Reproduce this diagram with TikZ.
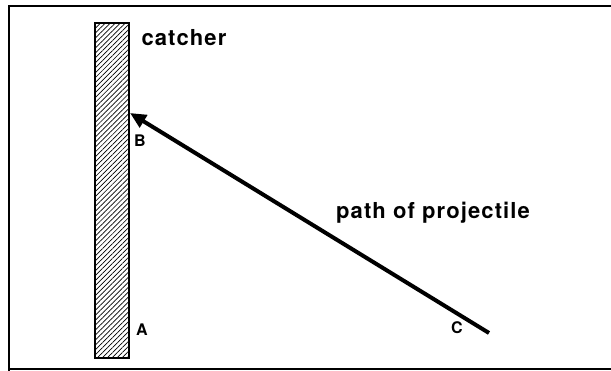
\documentclass[tikz,border=0pt]{standalone}
\usepackage{fontspec}
\setmainfont{TeX Gyre Heros}
\newfontfamily\labelfont[LetterSpace=5]{TeX Gyre Heros}
\usetikzlibrary{positioning,arrows.meta,patterns.meta}
\begin{document}
\begin{tikzpicture}[x=1pt,y=1pt,font=\labelfont\bfseries,frame/.style={line width=1.4pt},wall/.style={draw,line width=1.2pt,minimum width=34pt,minimum height=335pt,inner sep=0pt,pattern={Lines[angle=45,distance=3.5pt,line width=0.7pt]}},bigtext/.style={font=\labelfont\bfseries\fontsize{22}{25}\selectfont},pointtext/.style={font=\labelfont\bfseries\fontsize{16}{18}\selectfont,inner sep=0pt},shot/.style={line width=4pt,-{Triangle[length=16pt,width=14pt]}}]
\useasboundingbox (0,0) rectangle (611,371);
\draw[frame] (611,365) -- (9,365) -- (9,0);\draw[frame] (9,2) -- (611,2);
\node[wall] (catcher) at (112,180.5) {};
\node[bigtext,anchor=west] (catcherlabel) at (138,333) {catcher};
\coordinate (hit) at (130,258);\coordinate (launch) at (489,38);
\draw[shot] (launch) -- (hit);
\node[pointtext] (labelB) at (140,230) {B};\node[pointtext] (labelA) at (142,41) {A};\node[pointtext] (labelC) at (457,43) {C};
\node[bigtext] (pathlabel) at (433,158) {path of projectile};
\end{tikzpicture}
\end{document}
